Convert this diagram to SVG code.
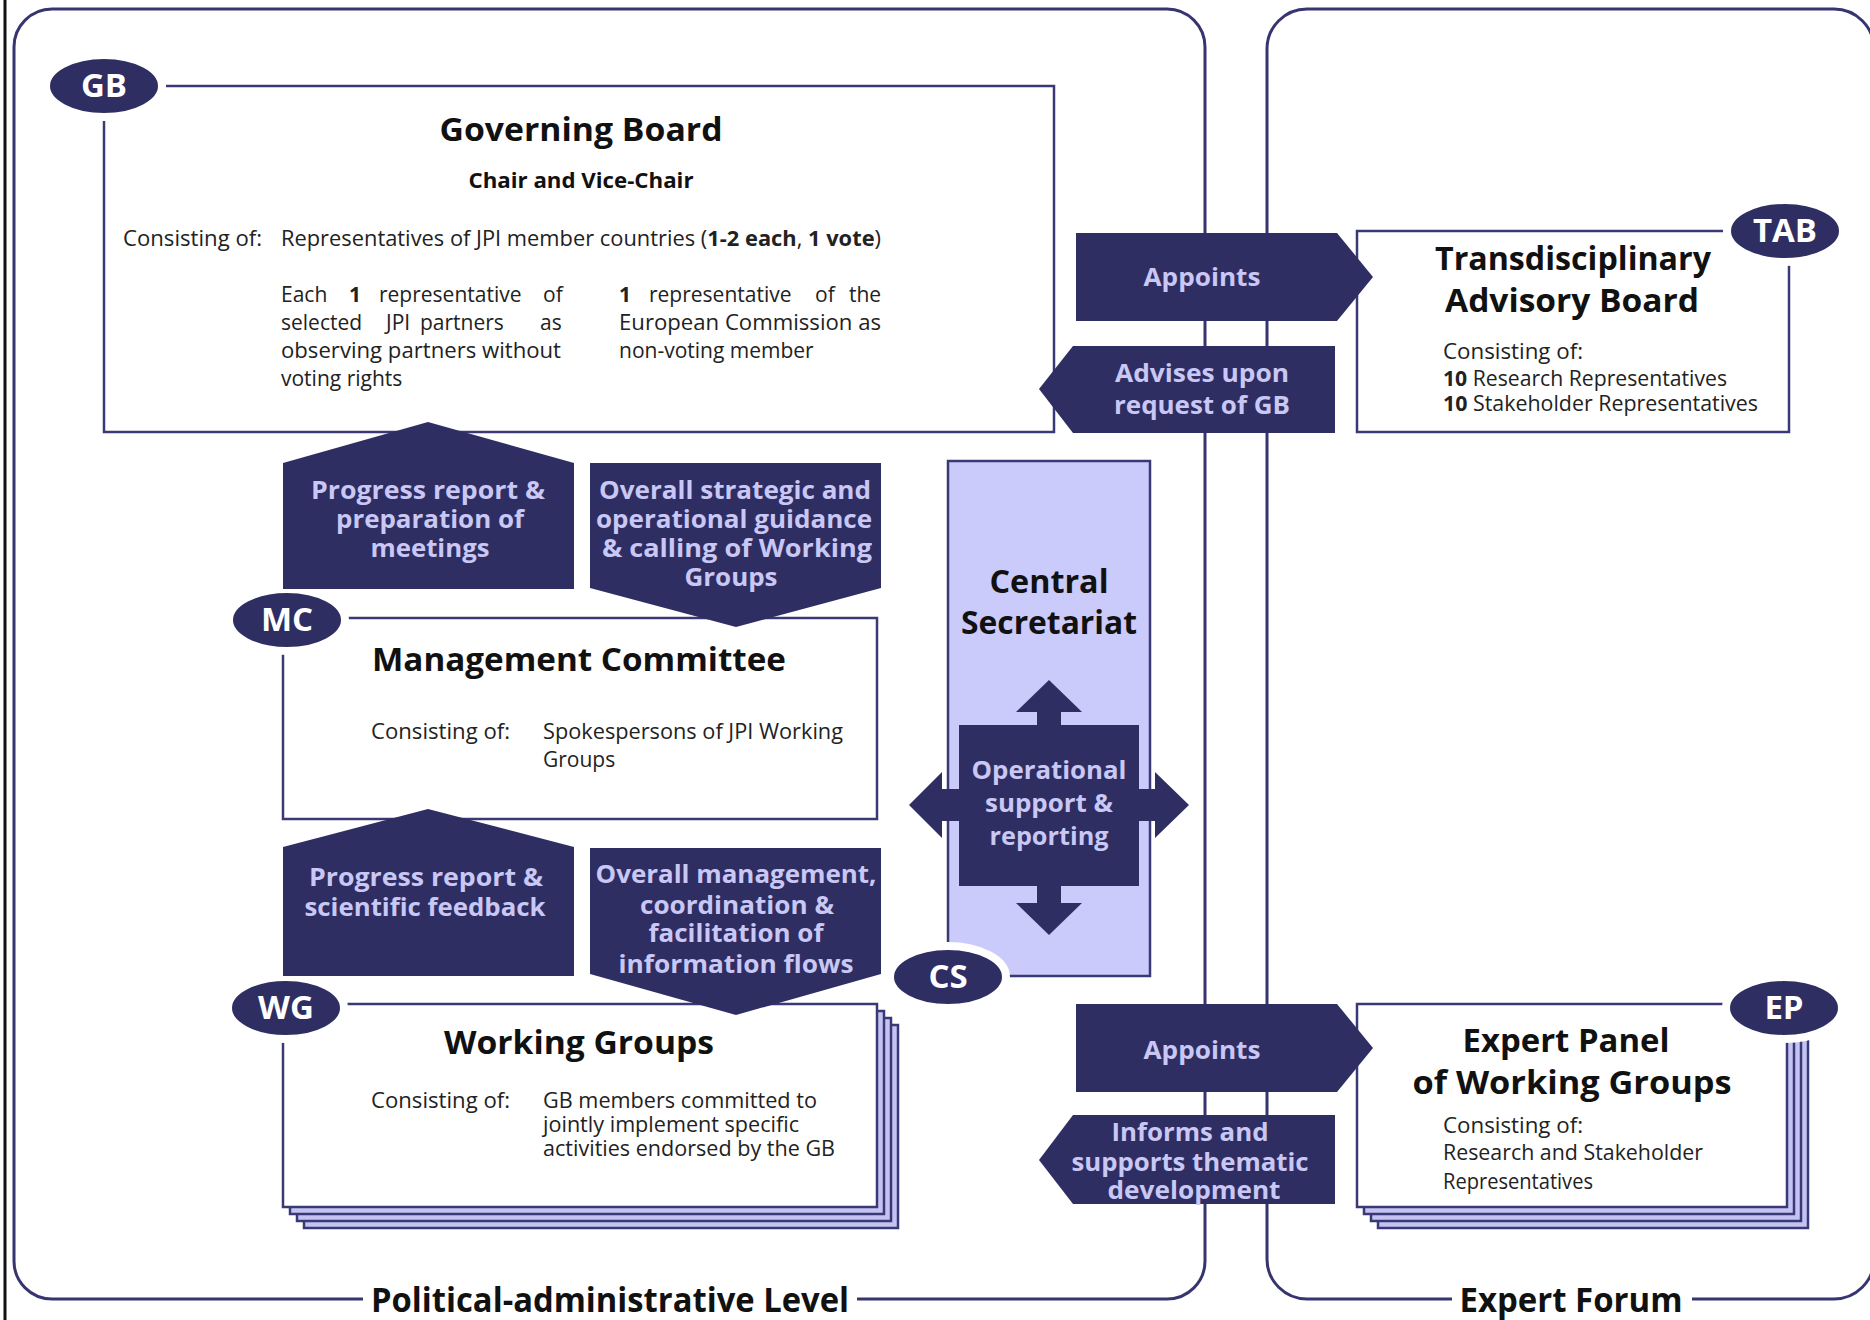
<svg xmlns="http://www.w3.org/2000/svg" width="1870" height="1320" viewBox="0 0 1870 1320">
<style>
.cont{fill:none;stroke:#363570;stroke-width:3}
.box{fill:#fff;stroke:#3a3975;stroke-width:2.5}
.stack{fill:#c4c3f3;stroke:#3a3975;stroke-width:2.5}
.cs{fill:#cacafb;stroke:#3a3975;stroke-width:2.5}
.ell{fill:#2f2e63;stroke:#fff;stroke-width:8}
.dark{fill:#2f2e63}
.lbl{font-family:"Open Sans","Noto Sans",sans-serif;font-weight:700;font-size:33px;fill:#fff;text-anchor:middle}
.h{font-family:"Open Sans","Noto Sans",sans-serif;font-weight:700;font-size:33px;fill:#111;text-anchor:middle}
.sub{font-family:"Open Sans","Noto Sans",sans-serif;font-weight:700;font-size:22px;fill:#111;text-anchor:middle}
.t{font-family:"Open Sans","Noto Sans",sans-serif;font-weight:400;font-size:21px;fill:#222}
.b{font-weight:700}
.al{font-family:"Open Sans","Noto Sans",sans-serif;font-weight:700;font-size:25px;fill:#c9c7f4;text-anchor:middle}
.ft{font-family:"Open Sans","Noto Sans",sans-serif;font-weight:700;font-size:34px;fill:#111;text-anchor:middle}
</style>
<rect x="0" y="0" width="1870" height="1320" fill="#fff"/>
<line x1="5" y1="0" x2="5" y2="1320" stroke="#111" stroke-width="3"/>

<g id="container-political">
<path class="cont" d="M363,1299 H52 A38,38 0 0 1 14,1261 V47 A38,38 0 0 1 52,9 H1167 A38,38 0 0 1 1205,47 V1261 A38,38 0 0 1 1167,1299 H857"/>
<text class="ft" x="610" y="1312" textLength="478" lengthAdjust="spacingAndGlyphs">Political-administrative Level</text>
</g>
<g id="container-expert">
<path class="cont" d="M1452,1299 H1307 A40,40 0 0 1 1267,1259 V49 A40,40 0 0 1 1307,9 H1834 A40,40 0 0 1 1874,49 V1259 A40,40 0 0 1 1834,1299 H1692"/>
<text class="ft" x="1571" y="1312" textLength="223" lengthAdjust="spacingAndGlyphs">Expert Forum</text>
</g>

<g id="node-gb">
<rect class="box" x="104" y="86" width="950" height="346"/>
<ellipse class="ell" cx="104" cy="86" rx="58" ry="31"/>
<text class="lbl" x="104" y="97">GB</text>
<text class="h" x="581" y="141" textLength="283" lengthAdjust="spacingAndGlyphs">Governing Board</text>
<text class="sub" x="581" y="188" textLength="225" lengthAdjust="spacingAndGlyphs">Chair and Vice-Chair</text>
<text class="t" x="123" y="246" textLength="139" lengthAdjust="spacingAndGlyphs">Consisting of:</text>
<text class="t" x="281" y="246" textLength="600" lengthAdjust="spacingAndGlyphs">Representatives of JPI member countries (<tspan class="b">1-2 each</tspan>, <tspan class="b">1 vote</tspan>)</text>
<text class="t" y="302"><tspan x="281">Each</tspan><tspan x="349" class="b">1</tspan><tspan x="379">representative</tspan><tspan x="543">of</tspan></text>
<text class="t" y="330"><tspan x="281">selected</tspan><tspan x="386">JPI</tspan><tspan x="420">partners</tspan><tspan x="540">as</tspan></text>
<text class="t" x="281" y="358" textLength="280" lengthAdjust="spacingAndGlyphs">observing partners without</text>
<text class="t" x="281" y="386">voting rights</text>
<text class="t" y="302"><tspan x="619" class="b">1</tspan><tspan x="649">representative</tspan><tspan x="815">of</tspan><tspan x="849">the</tspan></text>
<text class="t" x="619" y="330" textLength="262" lengthAdjust="spacingAndGlyphs">European Commission as</text>
<text class="t" x="619" y="358">non-voting member</text>
</g>

<g id="node-mc">
<rect class="box" x="283" y="618" width="594" height="201"/>
<ellipse class="ell" cx="287" cy="620" rx="58" ry="31"/>
<text class="lbl" x="287" y="631">MC</text>
<text class="h" x="579" y="671" textLength="414" lengthAdjust="spacingAndGlyphs">Management Committee</text>
<text class="t" x="371" y="739" textLength="139" lengthAdjust="spacingAndGlyphs">Consisting of:</text>
<text class="t" x="543" y="739" textLength="300" lengthAdjust="spacingAndGlyphs">Spokespersons of JPI Working</text>
<text class="t" x="543" y="767">Groups</text>
</g>

<g id="node-wg">
<rect class="stack" x="304" y="1025" width="594" height="203"/>
<rect class="stack" x="297" y="1018" width="594" height="203"/>
<rect class="stack" x="290" y="1011" width="594" height="203"/>
<rect class="box" x="283" y="1004" width="594" height="203"/>
<ellipse class="ell" cx="286" cy="1008" rx="58" ry="31"/>
<text class="lbl" x="286" y="1019">WG</text>
<text class="h" x="579" y="1054" textLength="270" lengthAdjust="spacingAndGlyphs">Working Groups</text>
<text class="t" x="371" y="1108" textLength="139" lengthAdjust="spacingAndGlyphs">Consisting of:</text>
<text class="t" x="543" y="1108" textLength="274" lengthAdjust="spacingAndGlyphs">GB members committed to</text>
<text class="t" x="543" y="1132" textLength="256" lengthAdjust="spacingAndGlyphs">jointly implement specific</text>
<text class="t" x="543" y="1156" textLength="292" lengthAdjust="spacingAndGlyphs">activities endorsed by the GB</text>
</g>

<g id="node-cs">
<rect class="cs" x="948" y="461" width="202" height="515"/>
<text class="h" x="1049" y="593" textLength="119" lengthAdjust="spacingAndGlyphs">Central</text>
<text class="h" x="1049" y="634" textLength="176" lengthAdjust="spacingAndGlyphs">Secretariat</text>
<ellipse class="ell" cx="948" cy="977" rx="58" ry="31"/>
<text class="lbl" x="948" y="988">CS</text>
</g>

<g id="node-tab">
<rect class="box" x="1357" y="231" width="432" height="201"/>
<ellipse class="ell" cx="1785" cy="231" rx="58" ry="31"/>
<text class="lbl" x="1785" y="242">TAB</text>
<text class="h" x="1573" y="270" textLength="276" lengthAdjust="spacingAndGlyphs">Transdisciplinary</text>
<text class="h" x="1572" y="312" textLength="254" lengthAdjust="spacingAndGlyphs">Advisory Board</text>
<text class="t" x="1443" y="359" textLength="140" lengthAdjust="spacingAndGlyphs">Consisting of:</text>
<text class="t" x="1443" y="386" textLength="284" lengthAdjust="spacingAndGlyphs"><tspan class="b">10</tspan> Research Representatives</text>
<text class="t" x="1443" y="411" textLength="315" lengthAdjust="spacingAndGlyphs"><tspan class="b">10</tspan> Stakeholder Representatives</text>
</g>

<g id="node-ep">
<rect class="stack" x="1378" y="1025" width="430" height="203"/>
<rect class="stack" x="1371" y="1018" width="430" height="203"/>
<rect class="stack" x="1364" y="1011" width="430" height="203"/>
<rect class="box" x="1357" y="1004" width="430" height="203"/>
<ellipse class="ell" cx="1784" cy="1008" rx="58" ry="31"/>
<text class="lbl" x="1784" y="1019">EP</text>
<text class="h" x="1566" y="1052" textLength="207" lengthAdjust="spacingAndGlyphs">Expert Panel</text>
<text class="h" x="1572" y="1094" textLength="319" lengthAdjust="spacingAndGlyphs">of Working Groups</text>
<text class="t" x="1443" y="1133" textLength="140" lengthAdjust="spacingAndGlyphs">Consisting of:</text>
<text class="t" x="1443" y="1160" textLength="260" lengthAdjust="spacingAndGlyphs">Research and Stakeholder</text>
<text class="t" x="1443" y="1189" textLength="150" lengthAdjust="spacingAndGlyphs">Representatives</text>
</g>

<g id="connectors">
<g id="c-progress-gb">
<polygon class="dark" points="283,463 428,422 574,463 574,589 283,589"/>
<text class="al" x="428" y="499" textLength="234" lengthAdjust="spacingAndGlyphs">Progress report  &amp;</text>
<text class="al" x="430" y="528" textLength="188" lengthAdjust="spacingAndGlyphs">preparation of</text>
<text class="al" x="430" y="557" textLength="119" lengthAdjust="spacingAndGlyphs">meetings</text>
</g>
<g id="c-guidance-mc">
<polygon class="dark" points="590,463 881,463 881,588 736,627 590,588"/>
<text class="al" x="735" y="499" textLength="272" lengthAdjust="spacingAndGlyphs">Overall strategic and</text>
<text class="al" x="734" y="528" textLength="276" lengthAdjust="spacingAndGlyphs">operational guidance</text>
<text class="al" x="737" y="557" textLength="270" lengthAdjust="spacingAndGlyphs">&amp; calling of Working</text>
<text class="al" x="731" y="586" textLength="93" lengthAdjust="spacingAndGlyphs">Groups</text>
</g>
<g id="c-progress-mc">
<polygon class="dark" points="283,847 428,809 574,847 574,976 283,976"/>
<text class="al" x="426" y="886" textLength="234" lengthAdjust="spacingAndGlyphs">Progress report  &amp;</text>
<text class="al" x="425" y="916" textLength="241" lengthAdjust="spacingAndGlyphs">scientific feedback</text>
</g>
<g id="c-management-wg">
<polygon class="dark" points="590,848 881,848 881,974 736,1015 590,974"/>
<text class="al" x="736" y="883" textLength="281" lengthAdjust="spacingAndGlyphs">Overall management,</text>
<text class="al" x="737" y="914" textLength="194" lengthAdjust="spacingAndGlyphs">coordination &amp;</text>
<text class="al" x="736" y="942" textLength="175" lengthAdjust="spacingAndGlyphs">facilitation of</text>
<text class="al" x="736" y="973" textLength="235" lengthAdjust="spacingAndGlyphs">information flows</text>
</g>
<g id="c-operational">
<path class="dark" d="M959,725 H1037 V712 H1016 L1049,680 L1082,712 H1061 V725 H1139 V789 H1155 V772 L1189,805 L1155,838 V821 H1139 V886 H1061 V903 H1082 L1049,935 L1016,903 H1037 V886 H959 V821 H942 V838 L909,805 L942,772 V789 H959 Z"/>
<text class="al" x="1049" y="779" font-size="26" textLength="155" lengthAdjust="spacingAndGlyphs">Operational</text>
<text class="al" x="1049" y="812" font-size="26" textLength="128" lengthAdjust="spacingAndGlyphs">support &amp;</text>
<text class="al" x="1049" y="845" font-size="26" textLength="119" lengthAdjust="spacingAndGlyphs">reporting</text>
</g>
<g id="c-appoints-tab">
<polygon class="dark" points="1076,233 1337,233 1373,277 1337,321 1076,321"/>
<text class="al" x="1202" y="286" font-size="27" textLength="117" lengthAdjust="spacingAndGlyphs">Appoints</text>
</g>
<g id="c-advises-gb">
<polygon class="dark" points="1073,346 1335,346 1335,433 1073,433 1039,389"/>
<text class="al" x="1202" y="382" font-size="26" textLength="174" lengthAdjust="spacingAndGlyphs">Advises upon</text>
<text class="al" x="1202" y="414" font-size="26" textLength="176" lengthAdjust="spacingAndGlyphs">request of GB</text>
</g>
<g id="c-appoints-ep">
<polygon class="dark" points="1076,1004 1337,1004 1373,1048 1337,1092 1076,1092"/>
<text class="al" x="1202" y="1059" font-size="27" textLength="117" lengthAdjust="spacingAndGlyphs">Appoints</text>
</g>
<g id="c-informs-wg">
<polygon class="dark" points="1073,1115 1335,1115 1335,1204 1073,1204 1039,1160"/>
<text class="al" x="1190" y="1141" textLength="157" lengthAdjust="spacingAndGlyphs">Informs and</text>
<text class="al" x="1190" y="1171" textLength="237" lengthAdjust="spacingAndGlyphs">supports thematic</text>
<text class="al" x="1194" y="1199" textLength="173" lengthAdjust="spacingAndGlyphs">development</text>
</g>
</g>
</svg>
